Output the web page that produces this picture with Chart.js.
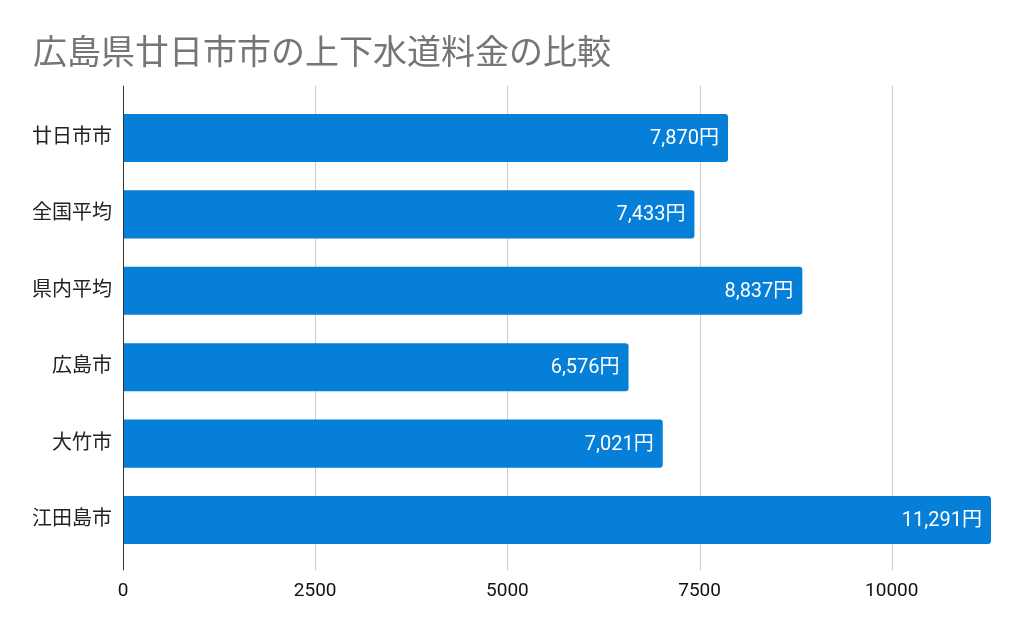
<!DOCTYPE html>
<html lang="ja">
<head>
<meta charset="utf-8">
<title>広島県廿日市市の上下水道料金の比較</title>
<script src="https://cdn.jsdelivr.net/npm/chart.js@4/dist/chart.umd.min.js"></script>
<style>
	html, body { margin: 0; padding: 0; background: #fff; }
	canvas { display: block; }
</style>
</head>
<body>
<canvas id="chart" width="1024" height="633"></canvas>
<script>
const titleText = "広島県廿日市市の上下水道料金の比較";
const cities = ["廿日市市", "全国平均", "県内平均", "広島市", "大竹市", "江田島市"];
const charges = [7870, 7433, 8837, 6576, 7021, 11291];
const xTicks = [0, 2500, 5000, 7500, 10000];

const FONT = "Roboto, 'Noto Sans CJK JP', sans-serif";
const BAR_COLOR = "#067fd8";

// grid lines and axis line run a bit past the bar area, like the original
const axisLines = {
	id: "axisLines",
	beforeDatasetsDraw(chart) {
		const { ctx, chartArea: a, scales: { x } } = chart;
		ctx.save();
		ctx.lineWidth = 1;
		ctx.strokeStyle = "#cccccc";
		x.ticks.forEach((t) => {
			if (t.value === 0) return;
			const px = Math.round(x.getPixelForValue(t.value)) + 0.5;
			ctx.beginPath();
			ctx.moveTo(px, a.top - 14);
			ctx.lineTo(px, a.bottom + 12);
			ctx.stroke();
		});
		ctx.restore();
	},
	afterDatasetsDraw(chart) {
		const { ctx, chartArea: a, scales: { x } } = chart;
		ctx.save();
		ctx.lineWidth = 1;
		ctx.strokeStyle = "#333333";
		const px = Math.round(x.getPixelForValue(0)) + 0.5;
		ctx.beginPath();
		ctx.moveTo(px, a.top - 14);
		ctx.lineTo(px, a.bottom + 12);
		ctx.stroke();
		ctx.restore();
	},
};

const barLabels = {
	id: "barLabels",
	afterDatasetsDraw(chart) {
		const { ctx } = chart;
		const meta = chart.getDatasetMeta(0);
		ctx.save();
		ctx.font = "20px " + FONT;
		ctx.fillStyle = "#ffffff";
		ctx.textAlign = "right";
		ctx.textBaseline = "middle";
		meta.data.forEach((bar, i) => {
			const text = charges[i].toLocaleString("en-US") + "円";
			ctx.fillText(text, bar.x - 9, bar.y + 1);
		});
		ctx.restore();
	},
};

new Chart(document.getElementById("chart"), {
	type: "bar",
	data: {
		labels: cities,
		datasets: [
			{
				data: charges,
				backgroundColor: BAR_COLOR,
				borderRadius: 3,
				borderSkipped: "start",
				categoryPercentage: 1,
				barPercentage: 0.63,
			},
		],
	},
	options: {
		indexAxis: "y",
		responsive: false,
		animation: false,
		layout: {
			padding: { left: 33, right: 33, top: 0, bottom: 8 },
		},
		plugins: {
			legend: { display: false },
			tooltip: { enabled: false },
			title: {
				display: true,
				text: titleText,
				align: "start",
				color: "#757575",
				font: { family: FONT, size: 34, weight: "normal" },
				padding: { top: 35, bottom: 24 },
			},
		},
		scales: {
			x: {
				min: 0,
				max: Math.max(...charges),
				grid: { display: false, drawTicks: false },
				border: { display: false },
				afterBuildTicks(scale) {
					scale.ticks = xTicks.map((v) => ({ value: v }));
				},
				ticks: {
					color: "#111111",
					padding: 22,
					font: { family: FONT, size: 19 },
					callback: (v) => String(v),
				},
			},
			y: {
				grid: { display: false, drawTicks: false },
				border: { display: false },
				afterFit(scale) {
					scale.width = 90;
				},
				ticks: {
					color: "#222222",
					padding: 11,
					font: { family: FONT, size: 20 },
				},
			},
		},
	},
	plugins: [axisLines, barLabels],
});
</script>
</body>
</html>
